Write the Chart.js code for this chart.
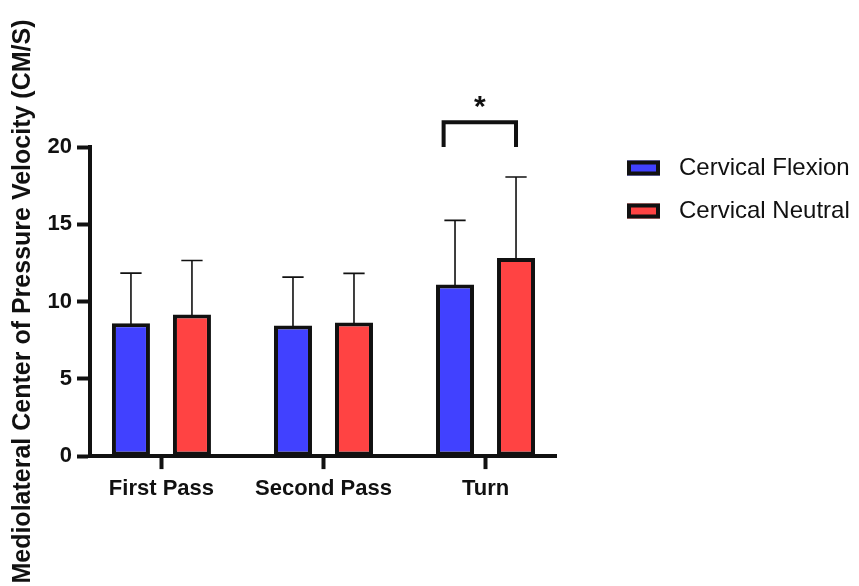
<!DOCTYPE html>
<html><head><meta charset="utf-8">
<script src="https://cdn.jsdelivr.net/npm/chart.js@4.4.1/dist/chart.umd.min.js"></script>
<style>html,body{margin:0;padding:0;background:#fff;} #wrap{width:859px;height:586px;}</style>
</head><body><div id="wrap"><canvas id="c" width="859" height="586"></canvas></div>
<script>
// ---- data ----
const categories   = ['First Pass', 'Second Pass', 'Turn'];
const seriesNames  = ['Cervical Flexion', 'Cervical Neutral'];
const flexionMeans = [8.60, 8.45, 11.11];
const flexionSD    = [3.24, 3.13, 4.14];
const neutralMeans = [9.16, 8.65, 12.81];
const neutralSD    = [3.50, 3.17, 5.25];
const yTicks       = [0, 5, 10, 15, 20];
const yTitle       = 'Mediolateral Center of Pressure Velocity (CM/S)';
const sigCategory  = 'Turn';
const sigLabel     = '*';

// ---- styles ----
const FONT = '"Liberation Sans", Arial, Helvetica, sans-serif';
const BLUE = '#4141FF';
const RED  = '#FF4343';
const INK  = '#111111';

const meansBySeries = [flexionMeans, neutralMeans];
const sdBySeries = [flexionSD, neutralSD];

const errorBarPlugin = {
  id: 'errorBars',
  afterDatasetsDraw(chart) {
    const ctx = chart.ctx, y = chart.scales.y;
    ctx.save();
    ctx.strokeStyle = INK;
    ctx.lineWidth = 1.6;
    chart.data.datasets.forEach((ds, d) => {
      const meta = chart.getDatasetMeta(d);
      meta.data.forEach((el, i) => {
        const top = y.getPixelForValue(meansBySeries[d][i] + sdBySeries[d][i]);
        const half = el.width * 0.28;
        ctx.beginPath();
        ctx.moveTo(el.x, el.y + 2);
        ctx.lineTo(el.x, top);
        ctx.moveTo(el.x - half, top);
        ctx.lineTo(el.x + half, top);
        ctx.stroke();
      });
    });
    ctx.restore();
  }
};

const bracketPlugin = {
  id: 'sigBracket',
  afterDraw(chart) {
    const ctx = chart.ctx, y = chart.scales.y;
    const k = categories.indexOf(sigCategory);
    const a = chart.getDatasetMeta(0).data[k];
    const b = chart.getDatasetMeta(1).data[k];
    const xL = a.x - a.width * 0.3, xR = b.x;
    const yT = y.getPixelForValue(21.6), yB = y.getPixelForValue(20.0);
    ctx.save();
    ctx.strokeStyle = INK;
    ctx.lineWidth = 4;
    ctx.lineJoin = 'miter';
    ctx.beginPath();
    ctx.moveTo(xL, yB); ctx.lineTo(xL, yT); ctx.lineTo(xR, yT); ctx.lineTo(xR, yB);
    ctx.stroke();
    ctx.fillStyle = INK;
    ctx.font = 'bold 30px ' + FONT;
    ctx.textAlign = 'center';
    ctx.textBaseline = 'alphabetic';
    ctx.fillText(sigLabel, (xL + xR) / 2, y.getPixelForValue(23.05) + 16.5);
    ctx.restore();
  }
};

const legendPlugin = {
  id: 'sideLegend',
  afterDraw(chart) {
    const ctx = chart.ctx, area = chart.chartArea;
    ctx.save();
    chart.data.datasets.forEach((ds, d) => {
      const bx = area.right + 71, cy = area.top + 21 + d * 43;
      ctx.fillStyle = ds.backgroundColor;
      ctx.fillRect(bx, cy - 7.5, 33, 15);
      ctx.strokeStyle = INK;
      ctx.lineWidth = 4;
      ctx.strokeRect(bx + 2, cy - 5.5, 29, 11);
      ctx.fillStyle = INK;
      ctx.font = '24px ' + FONT;
      ctx.textAlign = 'left';
      ctx.textBaseline = 'middle';
      ctx.fillText(ds.label, bx + 52, cy);
    });
    ctx.restore();
  }
};

new Chart(document.getElementById('c'), {
  type: 'bar',
  data: {
    datasets: [
      { label: seriesNames[0], data: flexionMeans.map((v, i) => ({ x: i + 1, y: v })),
        backgroundColor: BLUE, borderColor: INK, borderWidth: 4, borderSkipped: false },
      { label: seriesNames[1], data: neutralMeans.map((v, i) => ({ x: i + 1, y: v })),
        backgroundColor: RED, borderColor: INK, borderWidth: 4, borderSkipped: false }
    ]
  },
  options: {
    responsive: false,
    animation: false,
    devicePixelRatio: 1,
    categoryPercentage: 0.753,
    barPercentage: 0.623,
    layout: { padding: { top: 147, right: 303, bottom: 77.5, left: 0 } },
    plugins: { legend: { display: false }, tooltip: { enabled: false } },
    scales: {
      x: {
        type: 'linear',
        offset: false,
        min: 0.559, max: 3.435,
        afterBuildTicks(scale) { scale.ticks = categories.map((c, i) => ({ value: i + 1 })); },
        ticks: {
          callback: (v) => categories[v - 1],
          font: { family: FONT, size: 22, weight: 'bold' },
          color: INK, padding: 6.5, maxRotation: 0, autoSkip: false
        },
        grid: { offset: false, drawOnChartArea: false, drawTicks: true, tickLength: 13, tickWidth: 4, tickColor: INK },
        border: { display: true, color: INK, width: 4 }
      },
      y: {
        min: 0, max: 20,
        afterBuildTicks(scale) { scale.ticks = yTicks.map(v => ({ value: v })); },
        afterFit(scale) { scale.width = 90; },
        ticks: {
          font: { family: FONT, size: 22, weight: 'bold' },
          color: INK, padding: 5
        },
        grid: { drawOnChartArea: false, drawTicks: true, tickLength: 13, tickWidth: 4, tickColor: INK },
        border: { display: true, color: INK, width: 4 },
        title: {
          display: true, text: yTitle, color: INK,
          font: { family: FONT, size: 25, weight: 'bold' },
          padding: { top: 8, bottom: 0 }
        }
      }
    }
  },
  plugins: [errorBarPlugin, bracketPlugin, legendPlugin]
});
</script></body></html>
